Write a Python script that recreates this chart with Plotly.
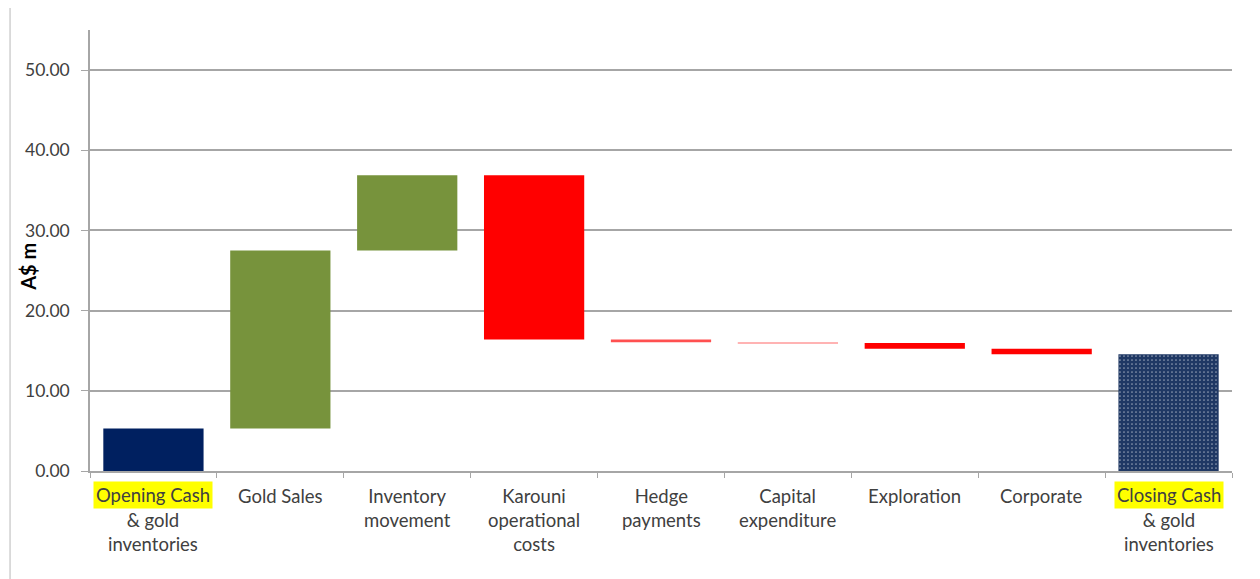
import plotly.graph_objects as go

categories = ["Opening Cash & gold inventories", "Gold Sales", "Inventory movement",
              "Karouni operational costs", "Hedge payments", "Capital expenditure",
              "Exploration", "Corporate", "Closing Cash & gold inventories"]
label_lines = [["Opening Cash", "& gold", "inventories"], ["Gold Sales"], ["Inventory", "movement"],
               ["Karouni", "operational", "costs"], ["Hedge", "payments"], ["Capital", "expenditure"],
               ["Exploration"], ["Corporate"], ["Closing Cash", "& gold", "inventories"]]
highlighted = [True, False, False, False, False, False, False, False, True]
bar_base = [0.0, 5.3, 27.5, 16.4, 16.05, 15.95, 15.25, 14.55, 0.0]
bar_height = [5.3, 22.2, 9.4, 20.5, 0.35, 0.1, 0.7, 0.7, 14.55]
bar_colors = ["#002060", "#77933C", "#77933C", "#FF0000", "#FF5050", "#FFB3B3",
              "#FF0000", "#FF0000", "#1F3864"]
bar_patterns = ["", "", "", "", "", "", "", "", "."]
y_ticks = [0, 10, 20, 30, 40, 50]

fig = go.Figure()
fig.add_trace(go.Bar(
    x=categories, y=bar_height, base=bar_base,
    marker=dict(color=bar_colors, line=dict(width=0),
                pattern=dict(shape=bar_patterns, fgcolor="#4A6A9C", size=4, solidity=0.15)),
    width=0.79, showlegend=False, hoverinfo="skip"))

font_fam = "Lato, 'Open Sans', sans-serif"
lab_size = 18.5
line_h = 24
annotations = []
for cat, lines, hl in zip(categories, label_lines, highlighted):
    if hl:
        annotations.append(dict(x=cat, y=0, xref="x", yref="y", yanchor="top", yshift=-10,
                                text=lines[0], showarrow=False, bgcolor="#FFFF00",
                                borderpad=2, font=dict(family=font_fam, size=lab_size, color="#404040")))
        annotations.append(dict(x=cat, y=0, xref="x", yref="y", yanchor="top", yshift=-12 - line_h,
                                text="<br>".join(lines[1:]), showarrow=False,
                                font=dict(family=font_fam, size=lab_size, color="#404040")))
    else:
        annotations.append(dict(x=cat, y=0, xref="x", yref="y", yanchor="top", yshift=-12,
                                text="<br>".join(lines), showarrow=False,
                                font=dict(family=font_fam, size=lab_size, color="#404040")))

# y-axis title
annotations.append(dict(x=0, y=0.463, xref="paper", yref="paper", xshift=-62, textangle=-90,
                        xanchor="center", yanchor="middle",
                        text="<b>A$ m</b>", showarrow=False,
                        font=dict(family=font_fam, size=20, color="#000000")))

fig.update_layout(
    width=1260, height=579,
    margin=dict(l=82, r=36, t=22, b=116),
    paper_bgcolor="white", plot_bgcolor="white",
    annotations=annotations,
    shapes=[dict(type="rect", xref="paper", yref="paper", x0=-0.070, x1=1.021, y0=-0.27, y1=1.052,
                 line=dict(color="#D0D0D0", width=1.5), layer="below")],
    xaxis=dict(showticklabels=False, ticks="outside", tickson="boundaries", ticklen=5,
               tickcolor="#A6A6A6", showline=True, linecolor="#A6A6A6", linewidth=1.5,
               showgrid=False, fixedrange=True),
    yaxis=dict(range=[0, 55], tickvals=y_ticks, tickformat=".2f", ticks="outside", ticklen=7,
               tickcolor="#A6A6A6", showline=True, linecolor="#A6A6A6", linewidth=1.5,
               showgrid=True, gridcolor="#A6A6A6", gridwidth=1.5, zeroline=False,
               ticklabelstandoff=8,
               tickfont=dict(family=font_fam, size=17.5, color="#404040")),
)

fig.write_html("out.html")
